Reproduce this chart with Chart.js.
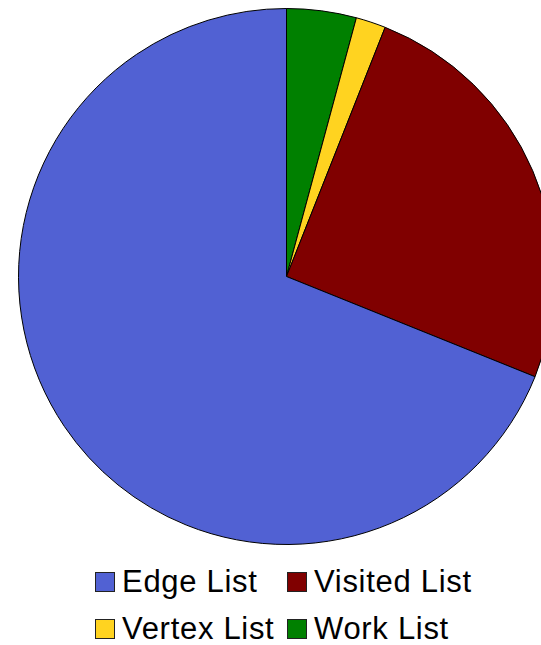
<!DOCTYPE html>
<html>
<head>
<meta charset="utf-8">
<script src="https://cdn.jsdelivr.net/npm/chart.js@4.4.1/dist/chart.umd.min.js"></script>
<style>
  html, body { margin: 0; padding: 0; background: #fff; }
  body { width: 541px; height: 645px; overflow: hidden; position: relative; }
  #pieWrap { position: absolute; left: 0; top: 0; width: 573px; height: 553px; }
  #legend {
    position: absolute; left: 95px; top: 572px;
    display: grid; grid-template-columns: 192px 192px; grid-auto-rows: 47px;
    font-family: "Liberation Sans", Arial, sans-serif; font-size: 31px; color: #000;
  }
  .item { display: flex; align-items: center; height: 20px; white-space: nowrap; }
  .item span:last-child { line-height: 20px; letter-spacing: 0.7px; }
  .box { width: 18px; height: 18px; border: 1px solid #222; margin-right: 7px; flex: none; }
</style>
</head>
<body>
<div id="pieWrap"><canvas id="pieChart"></canvas></div>
<div id="legend"></div>
<script>
// Share of memory per structure (percent), in legend order
const categories = ['Edge List', 'Visited List', 'Vertex List', 'Work List'];
const shares = [68.9, 25.1, 1.8, 4.2];
const colors = ['#5161d3', '#800000', '#ffd320', '#008000'];

// Slices run counter-clockwise from the top, so feed them to the chart reversed
const pieLabels = categories.slice().reverse();
const pieData = shares.slice().reverse();
const pieColors = colors.slice().reverse();

const ctx = document.getElementById('pieChart').getContext('2d');
const pieChart = new Chart(ctx, {
    type: 'pie',
    data: {
        labels: pieLabels,
        datasets: [{
            data: pieData,
            backgroundColor: pieColors,
            borderColor: '#000',
            borderWidth: 1,
            hoverOffset: 0
        }]
    },
    options: {
        responsive: true,
        maintainAspectRatio: false,
        animation: false,
        radius: 268,
        layout: { padding: 0 },
        plugins: {
            legend: { display: false },
            tooltip: { enabled: false }
        }
    }
});

// Legend built from the same arrays, two columns
const legend = document.getElementById('legend');
categories.forEach((name, i) => {
    const item = document.createElement('div');
    item.className = 'item';
    item.innerHTML = `<span class="box" style="background:${colors[i]}"></span><span>${name}</span>`;
    legend.appendChild(item);
});
</script>
</body>
</html>
